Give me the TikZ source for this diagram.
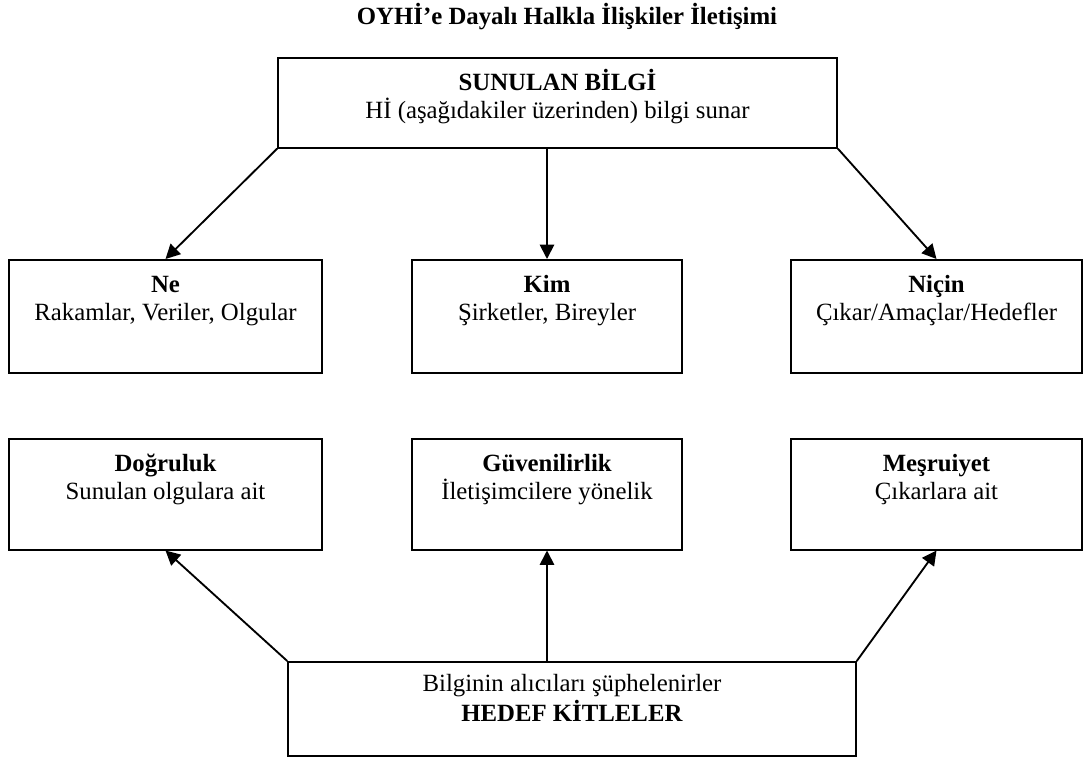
\documentclass[tikz,border=0pt]{standalone}
\usepackage{fontspec}
\setmainfont{Liberation Serif}
\usetikzlibrary{arrows.meta,positioning}

\begin{document}
\begin{tikzpicture}[x=0.484pt,y=-0.484pt,
    font=\fontsize{12pt}{13.6pt}\selectfont,
    box/.style={draw,line width=0.75pt,anchor=north,align=center,inner sep=0pt,text height=29.6pt},
    arr/.style={line width=0.9pt,-{Triangle[length=7pt,width=7pt]}}]
    \useasboundingbox (0,0) rectangle (1086,760);

    % title
    \node[anchor=base,font=\fontsize{12pt}{13.6pt}\selectfont\bfseries] (title) at (567,25) {OYHİ’e Dayalı Halkla İlişkiler İletişimi};

    \node[box,minimum width=270.6pt,text depth=14pt] (sunulan) at (557.5,57) {\textbf{SUNULAN BİLGİ}\\Hİ (aşağıdakiler üzerinden) bilgi sunar};

    % first row
    \node[box,minimum width=151.5pt,text depth=25.1pt] (ne) at (165.5,259) {\textbf{Ne}\\Rakamlar, Veriler, Olgular};
    \node[box,minimum width=130.7pt,text depth=25.1pt] (kim) at (547,259) {\textbf{Kim}\\Şirketler, Bireyler};
    \node[box,minimum width=140.8pt,text depth=25.1pt] (nicin) at (936.5,259) {\textbf{Niçin}\\Çıkar/Amaçlar/Hedefler};

    % second row
    \node[box,minimum width=151.5pt,text depth=24.1pt] (dogruluk) at (165.5,438) {\textbf{Doğruluk}\\Sunulan olgulara ait};
    \node[box,minimum width=130.7pt,text depth=24.1pt] (guven) at (547,438) {\textbf{Güvenilirlik}\\İletişimcilere yönelik};
    \node[box,minimum width=140.8pt,text depth=24.1pt] (mesru) at (936.5,438) {\textbf{Meşruiyet}\\Çıkarlara ait};

    \node[box,minimum width=274.9pt,text height=29pt,text depth=16.5pt] (hedef) at (572,661) {Bilginin alıcıları şüphelenirler\\[0.9pt]\textbf{HEDEF KİTLELER}};

    \foreach \from/\to in {sunulan.south west/ne.north,sunulan.south east/nicin.north,hedef.north west/dogruluk.south,hedef.north east/mesru.south}
    \draw[arr] (\from)--(\to);
    \draw[arr] (sunulan.south -| kim.north)--(kim.north);
    \draw[arr] (hedef.north -| guven.south)--(guven.south);
\end{tikzpicture}
\end{document}
